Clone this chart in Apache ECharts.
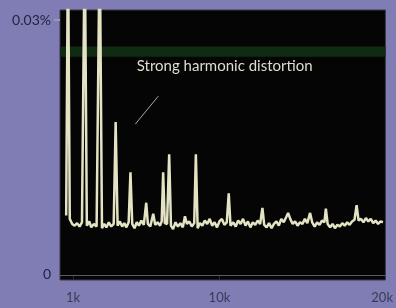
<!DOCTYPE html>
<html>
<head>
<meta charset="utf-8">
<script src="https://cdn.jsdelivr.net/npm/echarts@6/dist/echarts.min.js"></script>
<style>
html,body{margin:0;padding:0;background:#7f7db3;}
#chart{width:396px;height:308px;}
</style>
</head>
<body>
<div id="chart"></div>
<script>
// spectrum trace, frequency in kHz and level in %
var freqsKHz = [0.58,0.69,0.80,0.95,1.10,1.25,1.40,1.55,1.72,1.85,2.00,2.12,2.28,2.45,2.64,2.78,2.92,3.05,3.20,3.35,3.50,3.62,3.74,3.88,4.02,4.15,4.28,4.42,4.53,4.64,4.78,4.92,5.05,5.20,5.35,5.50,5.60,5.75,5.93,6.05,6.20,6.35,6.45,6.54,6.64,6.78,6.91,7.02,7.15,7.30,7.45,7.60,7.75,7.88,8.00,8.15,8.30,8.45,8.55,8.66,8.80,8.95,9.10,9.25,9.40,9.55,9.70,9.85,10.00,10.15,10.30,10.45,10.57,10.68,10.85,11.00,11.15,11.30,11.45,11.60,11.75,11.90,12.05,12.20,12.35,12.50,12.64,12.75,12.90,13.05,13.20,13.35,13.50,13.65,13.80,13.95,14.10,14.22,14.35,14.50,14.65,14.80,14.95,15.10,15.25,15.40,15.57,15.70,15.85,16.00,16.15,16.30,16.45,16.54,16.65,16.80,16.95,17.10,17.25,17.40,17.55,17.70,17.85,18.00,18.15,18.30,18.43,18.55,18.70,18.85,19.00,19.15,19.30,19.45,19.60,19.75,19.90,20.05];
var levelsPct = [0.0070,0.0400,0.0066,0.0060,0.0058,0.0061,0.0057,0.0062,0.0400,0.0058,0.0063,0.0056,0.0060,0.0057,0.0400,0.0055,0.0060,0.0056,0.0062,0.0057,0.0060,0.0180,0.0058,0.0063,0.0057,0.0061,0.0056,0.0062,0.0121,0.0060,0.0055,0.0062,0.0058,0.0064,0.0059,0.0085,0.0060,0.0057,0.0072,0.0059,0.0062,0.0058,0.0063,0.0121,0.0061,0.0060,0.0142,0.0058,0.0054,0.0062,0.0057,0.0061,0.0056,0.0069,0.0060,0.0063,0.0057,0.0061,0.0142,0.0055,0.0061,0.0058,0.0064,0.0060,0.0066,0.0058,0.0062,0.0056,0.0063,0.0066,0.0059,0.0062,0.0096,0.0058,0.0062,0.0057,0.0064,0.0060,0.0066,0.0058,0.0063,0.0056,0.0062,0.0059,0.0064,0.0060,0.0079,0.0059,0.0056,0.0061,0.0055,0.0060,0.0063,0.0058,0.0066,0.0062,0.0068,0.0073,0.0066,0.0060,0.0063,0.0058,0.0062,0.0060,0.0066,0.0061,0.0073,0.0062,0.0057,0.0062,0.0059,0.0064,0.0062,0.0078,0.0060,0.0056,0.0060,0.0055,0.0059,0.0057,0.0061,0.0058,0.0062,0.0059,0.0063,0.0065,0.0082,0.0064,0.0066,0.0062,0.0067,0.0063,0.0066,0.0061,0.0064,0.0060,0.0063,0.0062];
var xTickLabels = [1, 10, 20];
var yTickLabels = [0, 0.03];

var trace = freqsKHz.map(function (f, i) { return [f, levelsPct[i]]; });

var myChart = echarts.init(document.getElementById('chart'));
var option = {
    animation: false,
    backgroundColor: '#7f7db3',
    grid: {
        left: 60, right: 8, top: 10, bottom: 28,
        show: true,
        backgroundColor: '#050505',
        borderColor: '#3a3a4a',
        borderWidth: 1
    },
    xAxis: {
        type: 'value',
        min: 0.2,
        max: 20.2,
        axisLine: {show: false},
        splitLine: {show: false},
        axisTick: {
            show: true,
            customValues: [1, 10],
            length: 5,
            lineStyle: {color: '#2a2a40'}
        },
        axisLabel: {
            customValues: xTickLabels,
            formatter: function (v) { return v + 'k'; },
            color: '#3a3a58',
            fontFamily: 'Lato',
            fontSize: 13,
            margin: 11
        }
    },
    yAxis: {
        type: 'value',
        min: -0.0006,
        max: 0.0312,
        axisLine: {show: false},
        splitLine: {show: false},
        axisTick: {
            show: true,
            customValues: [0.03],
            length: 6,
            lineStyle: {color: '#9a98b4', width: 2}
        },
        axisLabel: {
            customValues: yTickLabels,
            formatter: function (v) { return v < 0.01 ? '0' : '0.03%'; },
            color: '#1f2240',
            fontFamily: 'Lato',
            fontSize: 14,
            margin: 9
        }
    },
    series: [{
        type: 'line',
        data: trace,
        symbol: 'none',
        clip: true,
        lineStyle: {color: '#e4e4c4', width: 2.5},
        markArea: {
            silent: true,
            itemStyle: {color: '#0f2c12'},
            data: [[{yAxis: 0.0257}, {yAxis: 0.0269}]]
        },
        markLine: {
            silent: true,
            symbol: 'none',
            label: {show: false},
            lineStyle: {color: '#a8a8a0', width: 1, type: 'solid'},
            data: [
                [{coord: [4.83, 0.01776]}, {coord: [6.24, 0.02105]}],
                {yAxis: 0.0004, lineStyle: {color: '#5a5a60', width: 1, type: 'solid'}}
            ]
        },
        markPoint: {
            silent: true,
            symbol: 'circle',
            symbolSize: 0,
            label: {
                show: true,
                position: 'inside',
                formatter: 'Strong harmonic distortion',
                color: '#deded0',
                fontFamily: 'Lato',
                fontSize: 15
            },
            data: [{coord: [10.32, 0.02458]}]
        }
    }]
};
myChart.setOption(option);
</script>
</body>
</html>
